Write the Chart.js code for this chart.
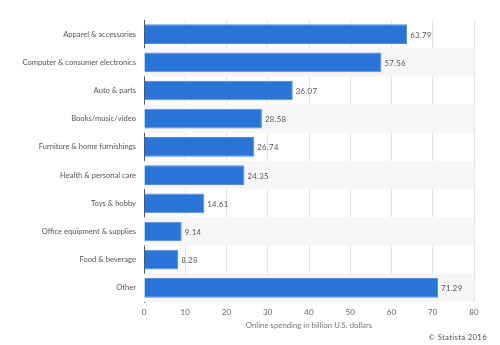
<!DOCTYPE html>
<html><head><meta charset="utf-8">
<script src="https://cdn.jsdelivr.net/npm/chart.js@4"></script>
<style>html,body{margin:0;padding:0;background:#fff;}#wrap{width:500px;height:345px;}</style>
</head><body><div id="wrap"><canvas id="c" width="500" height="345"></canvas></div>
<script>
const categories = ["Apparel & accessories","Computer & consumer electronics","Auto & parts","Books/music/video","Furniture & home furnishings","Health & personal care","Toys & hobby","Office equipment & supplies","Food & beverage","Other"];
const values = [63.79,57.56,36.07,28.58,26.74,24.35,14.61,9.14,8.28,71.29];
const xTicks = [0,10,20,30,40,50,60,70,80];
const axisTitle = "Online spending in billion U.S. dollars";
const credit = "© Statista 2016";
const FONT = "Lato, sans-serif";

const bands = {
  id:'bands',
  beforeDatasetsDraw(chart){
    const {ctx, chartArea:a, scales:{y}} = chart;
    const h = (a.bottom - a.top)/categories.length;
    ctx.save(); ctx.fillStyle = '#f6f6f6';
    for(let i=1;i<categories.length;i+=2){
      const c = y.getPixelForValue(i);
      ctx.fillRect(a.left, c-h/2, a.right-a.left, h);
    }
    ctx.restore();
  },
  afterDatasetsDraw(chart){
    const {ctx} = chart;
    const meta = chart.getDatasetMeta(0);
    ctx.save(); ctx.font = "7.8px " + FONT; ctx.fillStyle = '#555'; ctx.textBaseline='middle';
    ctx.letterSpacing = '0.3px';
    meta.data.forEach((b,i)=>{ ctx.fillText(values[i].toFixed(2), b.x+3, b.y+1); });
    ctx.fillStyle='#555'; ctx.textAlign='right';
    ctx.fillText(credit, 487, 337);
    ctx.restore();
  }
};

new Chart(document.getElementById('c'), {
  type:'bar',
  data:{labels:categories, datasets:[{data:values, backgroundColor:'#2a74d8', borderColor:'#4d8ce6', borderWidth:1, barPercentage:0.7, categoryPercentage:1}]},
  options:{
    indexAxis:'y', responsive:false, animation:false,
    layout:{padding:{top:20,right:26,left:0,bottom:15}},
    plugins:{legend:{display:false}, tooltip:{enabled:false}},
    scales:{
      x:{min:0,max:80,
        afterBuildTicks(s){ s.ticks = xTicks.map(v=>({value:v})); },
        afterFit(s){ s.height = 28; },
        grid:{color:'#e4e4e4', drawTicks:false, lineWidth:1},
        border:{display:false},
        ticks:{font:{size:8,family:FONT}, color:'#666', padding:6},
        title:{display:true, text:axisTitle, font:{size:7.8,family:FONT}, color:'#777', padding:{top:2,bottom:0}}
      },
      y:{
        afterFit(s){ s.width = 144; },
        grid:{display:false, drawTicks:false},
        border:{display:true, color:'#555', width:1},
        ticks:{font:{size:7.6,family:FONT}, color:'#555', padding:8}
      }
    }
  },
  plugins:[bands]
});
</script></body></html>
